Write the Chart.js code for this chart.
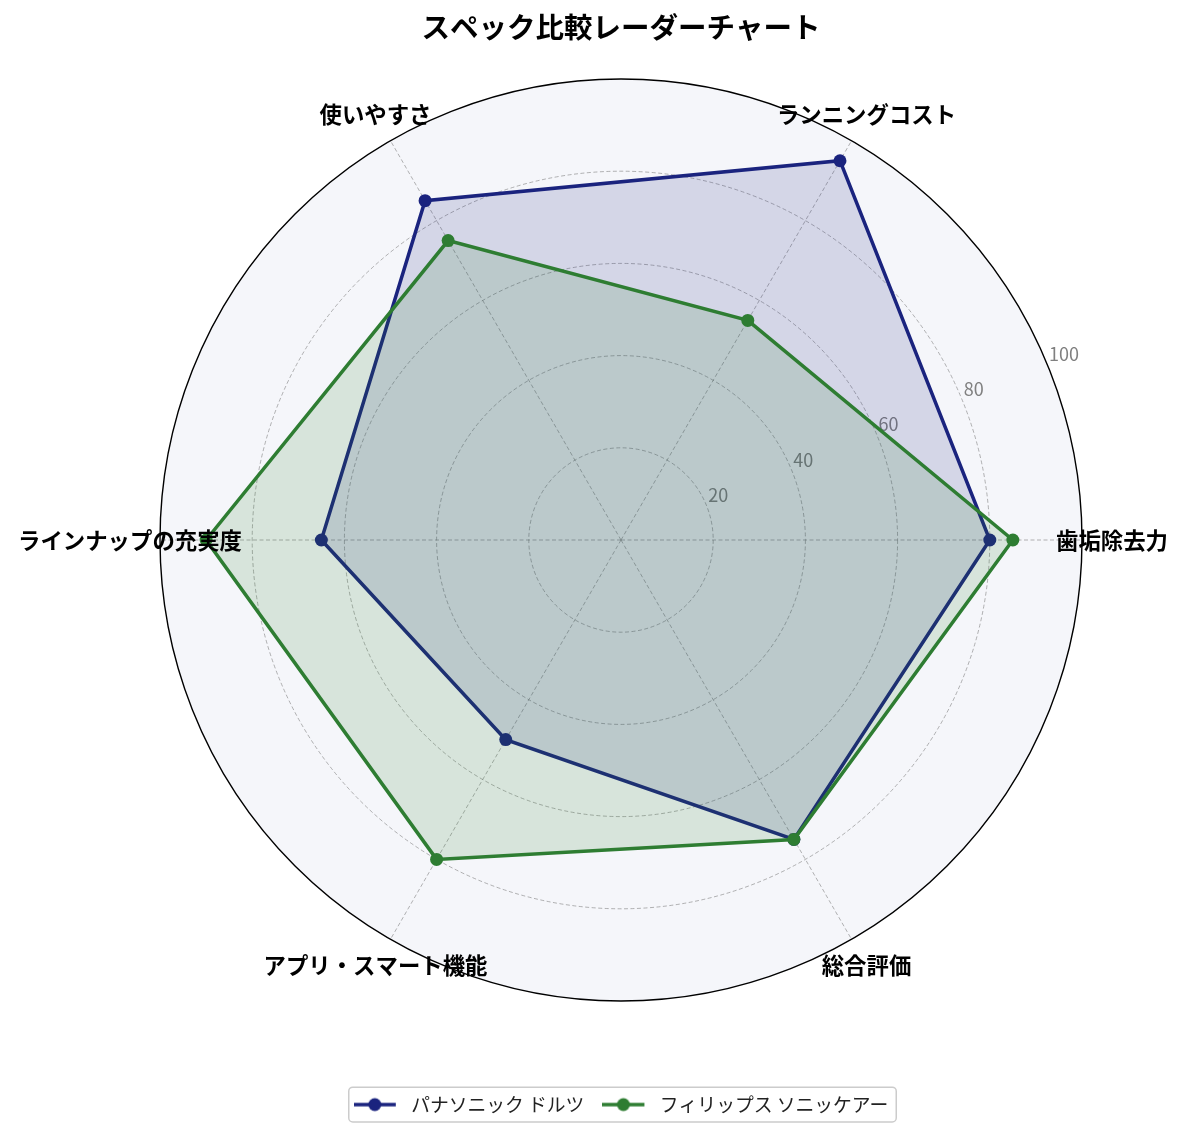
<!DOCTYPE html>
<html lang="ja">
<head>
<meta charset="utf-8">
<title>スペック比較レーダーチャート</title>
<script src="https://cdn.jsdelivr.net/npm/chart.js@4.4.1/dist/chart.umd.min.js"></script>
<style>
  html, body { margin: 0; padding: 0; background: #ffffff; }
</style>
</head>
<body>
<canvas id="radarChart" width="1185" height="1137"></canvas>
<script>
// axes in the order Chart.js walks them: clockwise, starting on the right
const categories = ['歯垢除去力', '総合評価', 'アプリ・スマート機能', 'ラインナップの充実度', '使いやすさ', 'ランニングコスト'];
const seriesNames = ['パナソニック ドルツ', 'フィリップス ソニッケアー'];
const panasonicValues = [80, 75, 50, 65, 85, 95];
const philipsValues = [85, 75, 80, 90, 75, 55];
const tickValues = [20, 40, 60, 80, 100];

const FONT = '"Noto Sans CJK JP", "Noto Sans", sans-serif';
const NAVY = '#1a237e';
const GREEN = '#2e7d32';
const GRID = 'rgba(128,128,128,0.75)';

// small line + dot picture used as the legend symbol
function legendSymbol(color) {
    const c = document.createElement('canvas');
    c.width = 48;
    c.height = 18;
    const g = c.getContext('2d');
    g.strokeStyle = color;
    g.lineWidth = 3.5;
    g.beginPath();
    g.moveTo(0, 9);
    g.lineTo(42, 9);
    g.stroke();
    g.fillStyle = color;
    g.beginPath();
    g.arc(21, 9, 6.5, 0, Math.PI * 2);
    g.fill();
    return c;
}
const symbols = [legendSymbol(NAVY), legendSymbol(GREEN)];

// background disc, solid outer ring, tick labels, category labels, legend frame
const radarDecor = {
    id: 'radarDecor',
    beforeDraw(chart) {
        const s = chart.scales.r;
        const ctx = chart.ctx;
        ctx.save();
        ctx.beginPath();
        ctx.arc(s.xCenter, s.yCenter, s.getDistanceFromCenterForValue(100), 0, Math.PI * 2);
        ctx.fillStyle = '#f5f6fa';
        ctx.fill();
        ctx.restore();
    },
    beforeDatasetsDraw(chart) {
        const s = chart.scales.r;
        const ctx = chart.ctx;
        ctx.save();
        ctx.beginPath();
        ctx.arc(s.xCenter, s.yCenter, s.getDistanceFromCenterForValue(100), 0, Math.PI * 2);
        ctx.strokeStyle = '#000000';
        ctx.lineWidth = 1.4;
        ctx.stroke();

        // radial tick labels sit at 22.5 degrees above the first axis
        const a = 22.5 * Math.PI / 180;
        ctx.font = '18px ' + FONT;
        ctx.fillStyle = '#808080';
        ctx.textAlign = 'left';
        ctx.textBaseline = 'middle';
        tickValues.forEach(v => {
            const d = s.getDistanceFromCenterForValue(v);
            ctx.fillText(String(v), s.xCenter + Math.cos(a) * d + 2, s.yCenter - Math.sin(a) * d - 9.5);
        });
        ctx.restore();
    },
    afterDraw(chart) {
        const s = chart.scales.r;
        const ctx = chart.ctx;
        ctx.save();
        ctx.font = 'bold 22.4px ' + FONT;
        ctx.fillStyle = '#000000';
        ctx.textAlign = 'center';
        ctx.textBaseline = 'middle';
        categories.forEach((c, i) => {
            const p = s.getPointPosition(i, s.getDistanceFromCenterForValue(100) + 30);
            ctx.fillText(c, p.x, p.y);
        });

        const hb = chart.legend.legendHitBoxes;
        if (hb && hb.length) {
            const last = hb[hb.length - 1];
            const x0 = hb[0].left - 5;
            const x1 = last.left + last.width + 8;
            const y0 = hb[0].top - 8;
            const y1 = hb[0].top + hb[0].height + 8;
            ctx.beginPath();
            ctx.roundRect(x0, y0, x1 - x0, y1 - y0, 4);
            ctx.strokeStyle = '#cccccc';
            ctx.lineWidth = 1.5;
            ctx.stroke();
        }
        ctx.restore();
    }
};

const ctx = document.getElementById('radarChart');

new Chart(ctx, {
    type: 'radar',
    data: {
        labels: categories,
        datasets: [
            {
                label: seriesNames[0],
                data: panasonicValues,
                borderColor: NAVY,
                backgroundColor: 'rgba(26,35,126,0.15)',
                borderWidth: 3.5,
                pointRadius: 6.5,
                pointBackgroundColor: NAVY,
                pointBorderColor: NAVY,
                pointBorderWidth: 0,
                fill: true,
                order: 1
            },
            {
                label: seriesNames[1],
                data: philipsValues,
                borderColor: GREEN,
                backgroundColor: 'rgba(46,125,50,0.15)',
                borderWidth: 3.5,
                pointRadius: 6.5,
                pointBackgroundColor: GREEN,
                pointBorderColor: GREEN,
                pointBorderWidth: 0,
                fill: true,
                order: 0
            }
        ]
    },
    options: {
        responsive: false,
        animation: false,
        layout: {
            padding: { left: 159, right: 102, top: 0, bottom: 13 }
        },
        plugins: {
            title: {
                display: true,
                text: 'スペック比較レーダーチャート',
                color: '#000000',
                font: { family: FONT, size: 28.5, weight: 'bold' },
                padding: { top: 10, bottom: 34.8 }
            },
            legend: {
                position: 'bottom',
                // empty title only pushes the legend row down to the bottom
                title: { display: true, text: '', font: { size: 10 }, padding: { top: 63, bottom: 0 } },
                labels: {
                    usePointStyle: true,
                    pointStyleWidth: 48,
                    boxHeight: 18,
                    padding: 18,
                    color: '#222222',
                    font: { family: FONT, size: 18.8 },
                    sort: (a, b) => a.datasetIndex - b.datasetIndex,
                    generateLabels(chart) {
                        const items = Chart.defaults.plugins.legend.labels.generateLabels(chart);
                        items.forEach(it => { it.pointStyle = symbols[it.datasetIndex]; });
                        return items;
                    }
                }
            },
            tooltip: { enabled: false }
        },
        scales: {
            r: {
                min: 0,
                max: 100,
                startAngle: 90,
                ticks: { display: false, stepSize: 20 },
                pointLabels: { display: false },
                grid: {
                    circular: true,
                    color: c => (c.tick && c.tick.value === 100) ? 'rgba(0,0,0,0)' : GRID,
                    lineWidth: 0.8,
                    borderDash: [4, 2.5]
                },
                border: { dash: [4, 2.5] },
                angleLines: {
                    display: true,
                    color: GRID,
                    lineWidth: 0.8,
                    borderDash: [4, 2.5]
                }
            }
        }
    },
    plugins: [radarDecor]
});
</script>
</body>
</html>
